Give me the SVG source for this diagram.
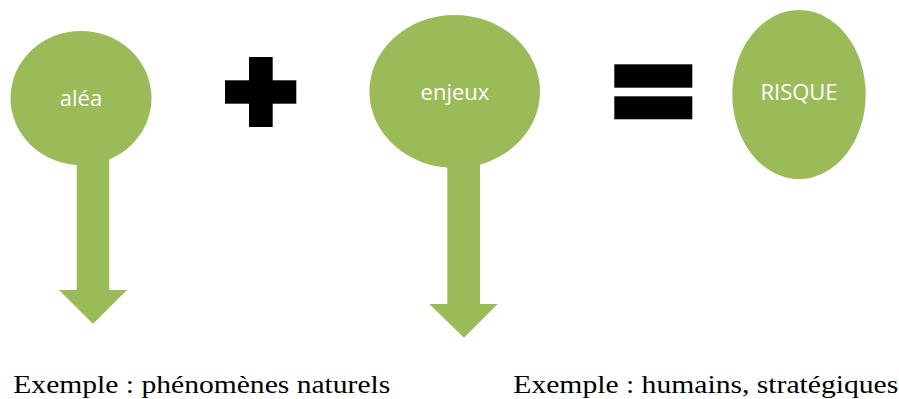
<svg xmlns="http://www.w3.org/2000/svg" width="899" height="399" viewBox="0 0 899 399">
<style>
.g{fill:#9BBB59}
.k{fill:#000}
.lbl{font-family:"Open Sans","Noto Sans",sans-serif;font-size:22px;fill:#fff;text-anchor:middle}
.ex{font-family:"Liberation Serif","DejaVu Serif",serif;font-size:26px;fill:#000}
</style>
<rect width="899" height="399" fill="#fff"/>
<g id="connectors">
<path class="g" d="M76.7,140 H109.3 V290 H127 L93,324 L59,290 H76.7 Z"/>
<path class="g" d="M447.3,140 H480 V304 H497.7 L464,337.7 L429.3,304 H447.3 Z"/>
</g>
<g id="alea">
<ellipse class="g" cx="81" cy="98" rx="70.5" ry="67"/>
<text class="lbl" x="81" y="106">aléa</text>
</g>
<g id="plus">
<rect class="k" x="249" y="57" width="23.7" height="70"/>
<rect class="k" x="225" y="80.3" width="71.3" height="23.4"/>
</g>
<g id="enjeux">
<ellipse class="g" cx="454.7" cy="91.5" rx="85.3" ry="76.5"/>
<text class="lbl" x="455" y="100">enjeux</text>
</g>
<g id="equals">
<rect class="k" x="614.3" y="64.3" width="78" height="23.4"/>
<rect class="k" x="614.3" y="96.3" width="78" height="23"/>
</g>
<g id="risque">
<ellipse class="g" cx="799" cy="94.5" rx="66.7" ry="84.5"/>
<text class="lbl" x="799" y="100">RISQUE</text>
</g>
<g id="examples">
<text class="ex" x="13.3" y="393" textLength="377" lengthAdjust="spacingAndGlyphs">Exemple : phénomènes naturels</text>
<text class="ex" x="513.3" y="393" textLength="385" lengthAdjust="spacingAndGlyphs">Exemple : humains, stratégiques</text>
</g>
</svg>
